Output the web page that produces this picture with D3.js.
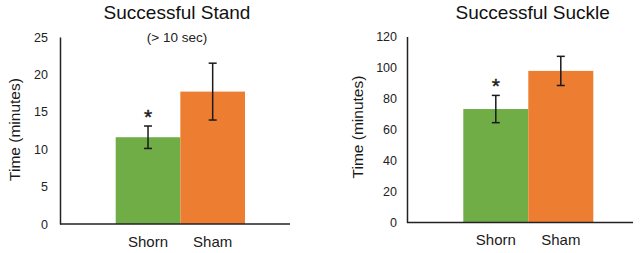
<!DOCTYPE html>
<html>
<head>
<meta charset="utf-8">
<script src="https://cdn.jsdelivr.net/npm/d3@7"></script>
<style>
  html, body { margin: 0; padding: 0; background: #fff; }
  svg { display: block; font-family: "Liberation Sans", Arial, sans-serif; }
</style>
</head>
<body>
<svg id="chart" width="640" height="253"></svg>
<script>
// ---- Data ----
const categories = ["Shorn", "Sham"];
const standMeans = [11.6, 17.7];
const standErr = [1.5, 3.8];
const standTicks = [0, 5, 10, 15, 20, 25];
const suckleMeans = [73.2, 97.8];
const suckleErr = [8.8, 9.4];
const suckleTicks = [0, 20, 40, 60, 80, 100, 120];
const significant = [true, false];
const colors = ["#70AD47", "#ED7D31"];

const svg = d3.select("#chart");

function drawChart(cfg) {
  const g = svg.append("g");
  const y = d3.scaleLinear().domain([0, cfg.max]).range([cfg.y0, cfg.yTop]);
  const x = d3.scaleBand().domain(categories).range([cfg.barL, cfg.barR]).padding(0);

  // bars
  g.selectAll("rect.bar").data(cfg.means).join("rect")
    .attr("class", "bar")
    .attr("x", (d, i) => x(categories[i]))
    .attr("width", x.bandwidth())
    .attr("y", d => y(d))
    .attr("height", d => y(0) - y(d))
    .attr("fill", (d, i) => colors[i]);

  // error bars
  const capW = 4;
  cfg.means.forEach((m, i) => {
    const cx = x(categories[i]) + x.bandwidth() / 2;
    const lo = y(m - cfg.err[i]), hi = y(m + cfg.err[i]);
    const eg = g.append("g").attr("stroke", "#1a1a1a").attr("stroke-width", 1.5);
    eg.append("line").attr("x1", cx).attr("x2", cx).attr("y1", lo).attr("y2", hi);
    eg.append("line").attr("x1", cx - capW).attr("x2", cx + capW).attr("y1", lo).attr("y2", lo);
    eg.append("line").attr("x1", cx - capW).attr("x2", cx + capW).attr("y1", hi).attr("y2", hi);
    if (significant[i]) {
      g.append("text").attr("x", cx).attr("y", hi - 2)
        .attr("text-anchor", "middle").attr("font-size", 21).attr("fill", "#1a1a1a")
        .attr("stroke", "#1a1a1a").attr("stroke-width", 0.4)
        .text("*");
    }
  });

  // y axis
  const ya = g.append("g").attr("transform", `translate(${cfg.axisX},0)`)
    .call(d3.axisLeft(y).tickValues(cfg.ticks).tickSize(0).tickPadding(cfg.pad).tickSizeOuter(0));
  ya.select(".domain").attr("stroke", "#222").attr("stroke-width", 1.5);
  ya.selectAll("text").attr("font-size", 12.5).attr("fill", "#222")
    .attr("font-family", "'Liberation Sans', Arial, sans-serif");

  // x axis line
  g.append("line").attr("x1", cfg.axisX).attr("x2", cfg.axisR)
    .attr("y1", y(0)).attr("y2", y(0)).attr("stroke", "#222").attr("stroke-width", 1.5);

  // x labels
  g.selectAll("text.xl").data(categories).join("text")
    .attr("class", "xl")
    .attr("x", d => x(d) + x.bandwidth() / 2)
    .attr("y", cfg.xLabelY)
    .attr("text-anchor", "middle").attr("font-size", 15).attr("fill", "#1a1a1a")
    .text(d => d);

  // title
  g.append("text").attr("x", cfg.titleX).attr("y", 18.5)
    .attr("text-anchor", "middle").attr("font-size", 19).attr("fill", "#111")
    .text(cfg.title);
  if (cfg.subtitle) {
    g.append("text").attr("x", cfg.titleX).attr("y", 42)
      .attr("text-anchor", "middle").attr("font-size", 13.5).attr("fill", "#222")
      .text(cfg.subtitle);
  }

  // y label
  g.append("text")
    .attr("transform", `translate(${cfg.yLabelX},${cfg.yLabelY}) rotate(-90)`)
    .attr("text-anchor", "middle").attr("font-size", 15.5).attr("fill", "#1a1a1a")
    .text("Time (minutes)");
}

drawChart({
  means: standMeans, err: standErr, ticks: standTicks, max: 25,
  y0: 224, yTop: 37, axisX: 60, axisR: 290, barL: 115.7, barR: 245, pad: 12,
  xLabelY: 246.5, title: "Successful Stand", subtitle: "(> 10 sec)", titleX: 177,
  yLabelX: 19.5, yLabelY: 129.5
});

drawChart({
  means: suckleMeans, err: suckleErr, ticks: suckleTicks, max: 120,
  y0: 222.5, yTop: 36.5, axisX: 407, axisR: 633, barL: 463.3, barR: 593.3, pad: 10,
  xLabelY: 245, title: "Successful Suckle", subtitle: null, titleX: 532.7,
  yLabelX: 362.5, yLabelY: 127
});
</script>
</body>
</html>
